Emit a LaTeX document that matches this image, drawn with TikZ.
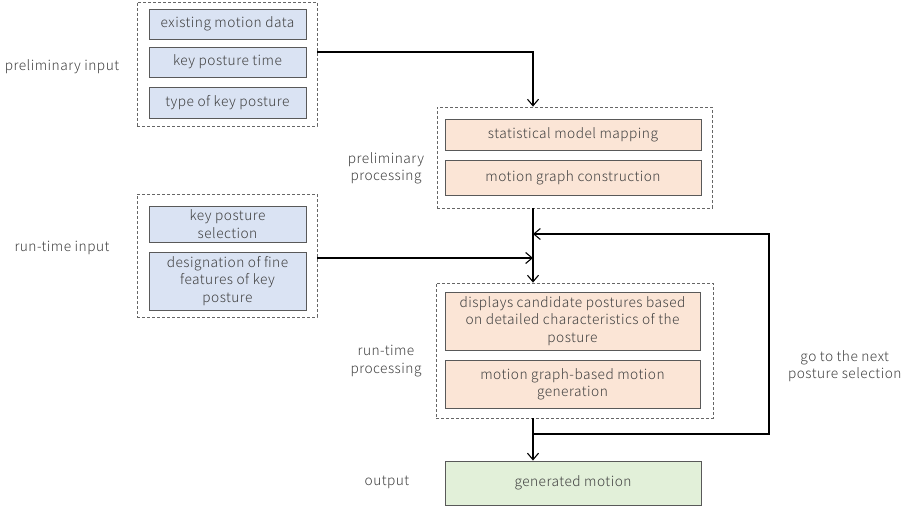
\documentclass[tikz,border=0pt]{standalone}
\usepackage{fontspec}
\setmainfont{Noto Sans CJK JP}[UprightFont=* Light, LetterSpace=3.5]
\usepackage{xcolor}
\usetikzlibrary{arrows.meta, positioning}
\definecolor{inputblue}{RGB}{218, 227, 243}
\definecolor{procorange}{RGB}{251, 229, 214}
\definecolor{outgreen}{RGB}{226, 240, 217}
\definecolor{textgray}{RGB}{64, 64, 64}

\begin{document}
\begin{tikzpicture}[
    x=1pt, y=-1pt,
    every node/.style={font=\fontsize{13.7}{17.3}\selectfont, text=textgray},
    item/.style={
        rectangle, draw=black!65, line width=0.9pt,
        inner sep=0pt, align=center
    },
    group/.style={
        rectangle, draw=black!60, line width=0.8pt,
        dash pattern=on 3pt off 2pt, inner sep=0pt
    },
    caption/.style={align=center},
    arrow/.style={
        -{Straight Barb[length=6.5pt, width=11pt]}, line width=1.1pt, draw=black
    }
]
\useasboundingbox (0,0) rectangle (907,508);

% Preliminary input
\node[group, minimum width=180pt, minimum height=124pt] (pin) at (227, 64) {};
\node[item, fill=inputblue, minimum width=157pt, minimum height=30pt] (pin1) at (227.5, 24) {existing motion data};
\node[item, fill=inputblue, minimum width=157pt, minimum height=30pt] (pin2) at (227.5, 62) {key posture time};
\node[item, fill=inputblue, minimum width=157pt, minimum height=31pt] (pin3) at (227.5, 102.5) {type of key posture};
\node[caption] (pinlabel) at (62, 67) {preliminary input};

% Preliminary processing
\node[group, minimum width=275pt, minimum height=101pt] (pp) at (574.5, 157.5) {};
\node[item, fill=procorange, minimum width=256pt, minimum height=31pt] (pp1) at (573, 134.5) {statistical model mapping};
\node[item, fill=procorange, minimum width=256pt, minimum height=35pt] (pp2) at (573, 177.5) {motion graph construction};
\node[caption] (pplabel) at (386, 168) {preliminary\\processing};

% Run-time input
\node[group, minimum width=180pt, minimum height=123pt] (ri) at (227, 255.5) {};
\node[item, fill=inputblue, minimum width=157pt, minimum height=36pt] (ri1) at (227.5, 224) {key posture\\selection};
\node[item, fill=inputblue, minimum width=157pt, minimum height=58pt] (ri2) at (227.5, 281) {designation of fine\\features of key\\posture};
\node[caption] (rilabel) at (62, 248) {run-time input};

% Run-time processing
\node[group, minimum width=277pt, minimum height=135pt] (rp) at (574.5, 350.5) {};
\node[item, fill=procorange, minimum width=255pt, minimum height=58pt] (rp1) at (572.5, 321) {displays candidate postures based\\on detailed characteristics of the\\posture};
\node[item, fill=procorange, minimum width=255pt, minimum height=48pt] (rp2) at (572.5, 384) {motion graph-based motion\\generation};
\node[caption] (rplabel) at (386, 361) {run-time\\processing};

% Output
\node[item, fill=outgreen, minimum width=256pt, minimum height=44pt] (out) at (573, 483) {generated motion};
\node[caption] (outlabel) at (387, 482) {output};
\node[caption, anchor=east] (looplabel) at (905, 366) {go to the next\\posture selection};

% Junctions
\coordinate (trunk) at (533, 0);
\coordinate (loop) at (533, 234);
\coordinate (merge) at (533, 258);
\coordinate (split) at (533, 434);
\coordinate (back) at (769, 0);

% Arrows
\draw[arrow] (pin.east) ++(0,-12) -| (trunk |- pp.north);
\draw[arrow] (trunk |- pp.south) -- (trunk |- rp.north);
\draw[arrow] (ri.east |- merge) -- (merge);
\draw[arrow] (trunk |- rp.south) -- (trunk |- out.north);
\draw[arrow] (split) -| (back |- loop) -- (loop);

\end{tikzpicture}
\end{document}
